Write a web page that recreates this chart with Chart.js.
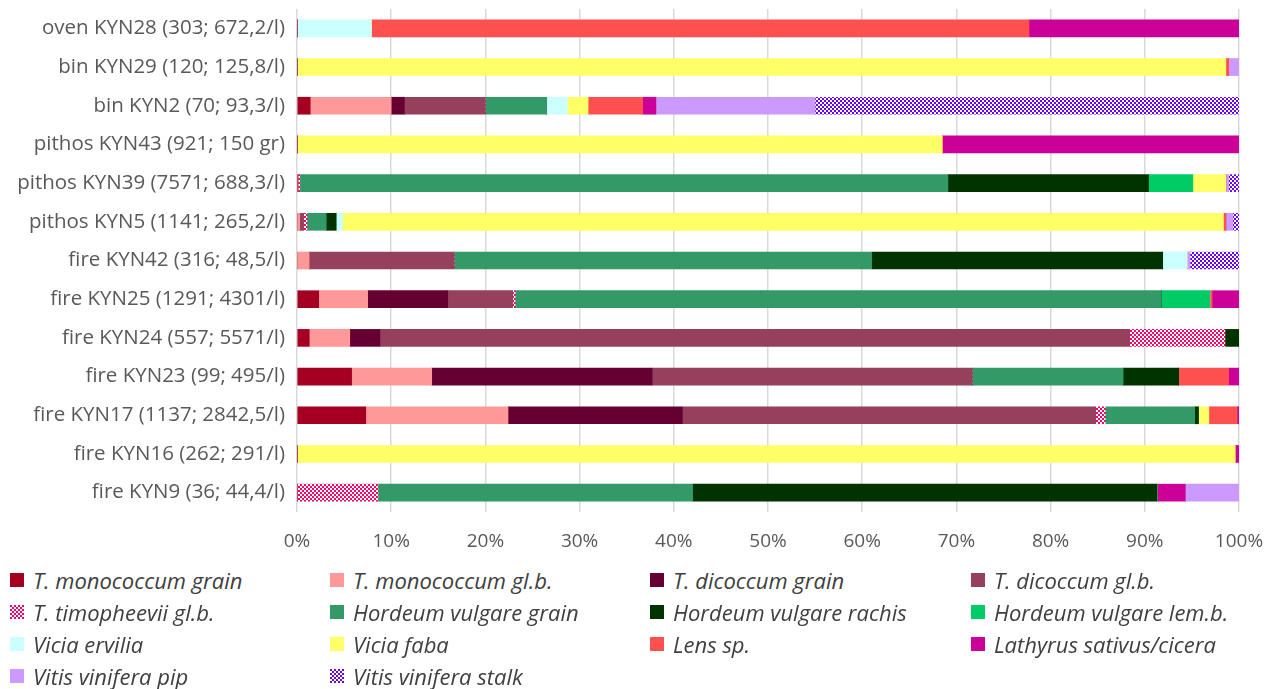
<!DOCTYPE html>
<html>
<head>
<meta charset="utf-8">
<script src="https://cdn.jsdelivr.net/npm/chart.js@4.4.1/dist/chart.umd.min.js"></script>
<style>
  html, body { margin: 0; padding: 0; background: #fff; }
  #wrap { position: relative; width: 1277px; height: 689px; }
  #chartBox { position: absolute; left: 0; top: 0; width: 1277px; height: 560px; }
  #legend {
    position: absolute; left: 10px; top: 564px;
    display: grid; grid-template-columns: 320px 320px 321px 320px;
    grid-auto-rows: 32px;
    font-family: "Open Sans", sans-serif; font-style: italic; font-size: 22px; color: #404040;
  }
  .lg-item { display: flex; align-items: center; white-space: nowrap; }
  .lg-item canvas { width: 14px; height: 14px; margin-right: 9px; }
</style>
</head>
<body>
<div id="wrap">
  <div id="chartBox"><canvas id="chart"></canvas></div>
  <div id="legend"></div>
</div>
<script>
// categories, top to bottom
const categories = [
    'oven KYN28 (303; 672,2/l)',
    'bin KYN29 (120; 125,8/l)',
    'bin KYN2 (70; 93,3/l)',
    'pithos KYN43 (921; 150 gr)',
    'pithos KYN39 (7571; 688,3/l)',
    'pithos KYN5 (1141; 265,2/l)',
    'fire KYN42 (316; 48,5/l)',
    'fire KYN25 (1291; 4301/l)',
    'fire KYN24 (557; 5571/l)',
    'fire KYN23 (99; 495/l)',
    'fire KYN17 (1137; 2842,5/l)',
    'fire KYN16 (262; 291/l)',
    'fire KYN9 (36; 44,4/l)'
];

// share of each taxon per sample (%)
const monoGrain  = [0, 0, 1.4, 0, 0, 0, 0, 2.3, 1.3, 5.8, 7.3, 0, 0];
const monoGlb    = [0, 0, 8.6, 0, 0.1, 0.3, 1.3, 5.2, 4.3, 8.5, 15.1, 0, 0];
const dicGrain   = [0, 0, 1.4, 0, 0, 0, 0, 8.5, 3.2, 23.4, 18.5, 0, 0];
const dicGlb     = [0, 0, 8.6, 0, 0, 0.4, 15.4, 6.9, 79.6, 34.0, 43.9, 0, 0];
const timoGlb    = [0, 0, 0, 0, 0.2, 0.35, 0, 0.25, 10.1, 0, 1.0, 0, 8.6];
const hordGrain  = [0, 0, 6.5, 0, 68.8, 2.05, 44.3, 68.6, 0, 16.0, 9.5, 0, 33.4];
const hordRachis = [0, 0, 0, 0, 21.3, 1.05, 30.9, 0, 1.5, 5.9, 0.4, 0, 49.3];
const hordLemb   = [0, 0, 0, 0, 4.7, 0, 0, 5.15, 0, 0, 0, 0, 0];
const ervilia    = [7.9, 0, 2.2, 0, 0, 0.7, 2.6, 0, 0, 0, 0, 0, 0];
const faba       = [0, 98.6, 2.2, 68.5, 3.5, 93.5, 0, 0, 0, 0, 1.1, 99.6, 0];
const lens       = [69.8, 0.3, 5.8, 0, 0, 0.25, 0, 0.25, 0, 5.3, 3.0, 0, 0];
const lathyrus   = [22.3, 0, 1.4, 31.5, 0, 0, 0, 2.85, 0, 1.1, 0.2, 0.4, 3.0];
const vitisPip   = [0, 1.1, 16.9, 0, 0.3, 0.75, 0.3, 0, 0, 0, 0, 0, 5.7];
const vitisStalk = [0, 0, 45.0, 0, 1.1, 0.65, 5.2, 0, 0, 0, 0, 0, 0];

const xTicks = [0, 10, 20, 30, 40, 50, 60, 70, 80, 90, 100];

function checker(color, cell) {
    const c = document.createElement('canvas');
    c.width = cell * 2; c.height = cell * 2;
    const g = c.getContext('2d');
    g.fillStyle = '#fff'; g.fillRect(0, 0, c.width, c.height);
    g.fillStyle = color;
    g.fillRect(0, 0, cell, cell);
    g.fillRect(cell, cell, cell, cell);
    return g.createPattern(c, 'repeat');
}

const series = [
    { label: 'T. monococcum grain', data: monoGrain, color: '#A50021' },
    { label: 'T. monococcum gl.b.', data: monoGlb, color: '#FF9999' },
    { label: 'T. dicoccum grain', data: dicGrain, color: '#660033' },
    { label: 'T. dicoccum gl.b.', data: dicGlb, color: '#95405C' },
    { label: 'T. timopheevii gl.b.', data: timoGlb, color: checker('#FF0066', 2) },
    { label: 'Hordeum vulgare grain', data: hordGrain, color: '#339966' },
    { label: 'Hordeum vulgare rachis', data: hordRachis, color: '#003300' },
    { label: 'Hordeum vulgare lem.b.', data: hordLemb, color: '#00CC66' },
    { label: 'Vicia ervilia', data: ervilia, color: '#CCFFFF' },
    { label: 'Vicia faba', data: faba, color: '#FFFF66' },
    { label: 'Lens sp.', data: lens, color: '#FF5050' },
    { label: 'Lathyrus sativus/cicera', data: lathyrus, color: '#CC0099' },
    { label: 'Vitis vinifera pip', data: vitisPip, color: '#CC99FF' },
    { label: 'Vitis vinifera stalk', data: vitisStalk, color: checker('#6600FF', 2) }
];

const chart = new Chart(document.getElementById('chart'), {
    type: 'bar',
    data: {
        labels: categories,
        datasets: series.map(s => ({
            label: s.label, data: s.data, backgroundColor: s.color,
            borderWidth: 0, barThickness: 17
        }))
    },
    options: {
        indexAxis: 'y', responsive: true, maintainAspectRatio: false, animation: false,
        layout: { padding: { top: 9, right: 38, left: 0, bottom: 0 } },
        plugins: { legend: { display: false }, tooltip: { enabled: false } },
        scales: {
            x: {
                stacked: true, min: 0, max: 100,
                afterBuildTicks: s => { s.ticks = xTicks.map(v => ({ value: v })); },
                afterFit: s => { s.height = 48; s.paddingLeft = 0; s.paddingRight = 0; },
                ticks: { callback: v => v + '%', color: '#595959', padding: 18, font: { family: 'Open Sans', size: 19 } },
                grid: { color: '#D9D9D9', lineWidth: 1.5, drawTicks: false },
                border: { display: false }
            },
            y: {
                stacked: true,
                afterFit: s => { s.width = 297; s.paddingTop = 0; s.paddingBottom = 0; },
                ticks: { color: '#595959', padding: 12, font: { family: 'Open Sans', size: 20.5 } },
                grid: { display: false, drawTicks: false },
                border: { display: false }
            }
        }
    }
});

// legend in 4 columns, like the original
const lg = document.getElementById('legend');
series.forEach(s => {
    const item = document.createElement('div');
    item.className = 'lg-item';
    const sw = document.createElement('canvas');
    sw.width = 14; sw.height = 14;
    const g = sw.getContext('2d');
    g.fillStyle = s.color; g.fillRect(0, 0, 14, 14);
    const t = document.createElement('span');
    t.textContent = s.label;
    item.appendChild(sw); item.appendChild(t);
    lg.appendChild(item);
});
</script>
</body>
</html>
